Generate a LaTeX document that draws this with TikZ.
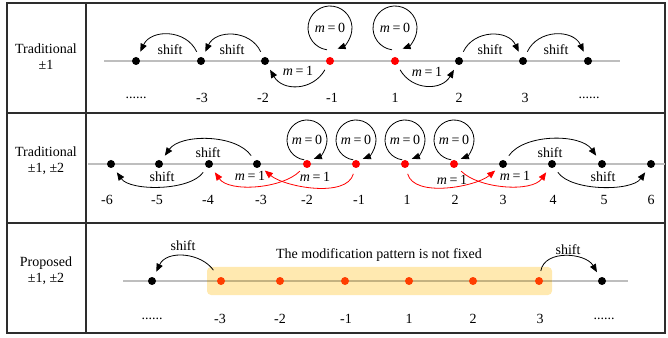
\documentclass[tikz,border=0pt]{standalone}
\usepackage{fontspec}
\setmainfont{Liberation Serif}
\usepackage{tikz}
\usetikzlibrary{arrows.meta,positioning,calc}
\definecolor{dotR}{RGB}{255,0,0}
\definecolor{dotO}{RGB}{255,62,0}
\definecolor{bandY}{RGB}{255,233,176}
\definecolor{lineG}{RGB}{190,190,190}
\definecolor{lineO}{RGB}{196,178,128}
\definecolor{frameK}{RGB}{45,45,45}
\newcommand\figfont{\fontsize{14}{16}\selectfont}
\newcommand\mval[1]{\textit{m}\hspace{0.18em}=\hspace{0.18em}#1}

\begin{document}
\begin{tikzpicture}[
  x=1pt, y=1pt,
  dot/.style={circle, fill=black, inner sep=0pt, minimum size=8pt},
  rdot/.style={dot, fill=dotR},
  odot/.style={dot, fill=dotO},
  txt/.style={font=\figfont, inner sep=1pt},
  num/.style={txt},
  rowlbl/.style={txt, align=center},
  ring/.style={txt, circle, inner sep=0pt, outer sep=0pt},
  arr/.style={-{Triangle[length=8pt,width=6.5pt]}, line width=0.8pt, shorten <=6pt, shorten >=6pt},
  rarr/.style={arr, dotR},
  selfarr/.style={-{Triangle[length=8pt,width=6.5pt]}, line width=0.8pt},
  axis/.style={lineG, line width=1.2pt},
  band/.style={fill=bandY, rounded corners=4pt, minimum width=345pt, minimum height=28pt, inner sep=0pt},
  frame/.style={frameK, line width=1.3pt}
]
\useasboundingbox (0,0) rectangle (668,337);

% table frame
\draw[frame] (7,4) rectangle (665,334);
\draw[frame] (86,4) -- (86,334);
\draw[frame] (7,224) -- (665,224);
\draw[frame] (7,114) -- (665,114);

\node[rowlbl] (h1) at (46,280) {Traditional\\±1};
\node[rowlbl] (h2) at (46,176) {Traditional\\±1, ±2};
\node[rowlbl] (h3) at (46,66) {Proposed\\±1, ±2};

% row 1: traditional +-1
\draw[axis] (104,276) -- (620,276);
\node[dot] (ta1) at (136,276) {};
\node[dot] (ta2) at (201,276) {};
\node[dot] (ta3) at (265,276) {};
\node[rdot] (ta4) at (330,276) {};
\node[rdot] (ta5) at (395,276) {};
\node[dot] (ta6) at (459,276) {};
\node[dot] (ta7) at (523,276) {};
\node[dot] (ta8) at (588,276) {};
\node[num] (na1) at (136,239) {......};
\node[num] (na2) at (202,239) {-3};
\node[num] (na3) at (263,239) {-2};
\node[num] (na4) at (332,239) {-1};
\node[num] (na5) at (395,239) {1};
\node[num] (na6) at (459,239) {2};
\node[num] (na7) at (525,239) {3};
\node[num] (na8) at (589,239) {......};
\node[ring, minimum size=44pt] (za1) at (330,309) {\mval{0}};
\node[ring, minimum size=44pt] (za2) at (395,309) {\mval{0}};
\draw[selfarr] (za1.262) arc[start angle=262, end angle=-70, radius=22pt];
\draw[selfarr] (za2.262) arc[start angle=262, end angle=-70, radius=22pt];
\node[txt] (sa1) at (170,287) {shift};
\node[txt] (sa2) at (232,287) {shift};
\node[txt] (sa3) at (490,287) {shift};
\node[txt] (sa4) at (556,287) {shift};
\node[txt] (ma1) at (298,266) {\mval{1}};
\node[txt] (ma2) at (427,265) {\mval{1}};
\draw[arr] (ta2) to[out=115,in=65,looseness=1.3] (ta1);
\draw[arr] (ta3) to[out=115,in=65,looseness=1.3] (ta2);
\draw[arr] (ta4) to[out=240,in=300,looseness=1.3] (ta3);
\draw[arr] (ta5) to[out=300,in=240,looseness=1.3] (ta6);
\draw[arr] (ta6) to[out=65,in=115,looseness=1.3] (ta7);
\draw[arr] (ta7) to[out=65,in=115,looseness=1.3] (ta8);

% row 2: traditional +-1, +-2
\draw[axis] (88,173) -- (665,173);
\node[dot] (tb1) at (111,173) {};
\node[dot] (tb2) at (159,173) {};
\node[dot] (tb3) at (209,173) {};
\node[dot] (tb4) at (257,173) {};
\node[rdot] (tb5) at (307,173) {};
\node[rdot] (tb6) at (356,173) {};
\node[rdot] (tb7) at (405,173) {};
\node[rdot] (tb8) at (454,173) {};
\node[dot] (tb9) at (503,173) {};
\node[dot] (tb10) at (552,173) {};
\node[dot] (tb11) at (602,173) {};
\node[dot] (tb12) at (651,173) {};
\node[num] (nb1) at (107,137) {-6};
\node[num] (nb2) at (157,137) {-5};
\node[num] (nb3) at (208,137) {-4};
\node[num] (nb4) at (261,137) {-3};
\node[num] (nb5) at (307,137) {-2};
\node[num] (nb6) at (359,137) {-1};
\node[num] (nb7) at (407,137) {1};
\node[num] (nb8) at (455,137) {2};
\node[num] (nb9) at (503,137) {3};
\node[num] (nb10) at (553,137) {4};
\node[num] (nb11) at (604,137) {5};
\node[num] (nb12) at (651,137) {6};
\node[ring, minimum size=40pt] (zb1) at (307,197) {\mval{0}};
\node[ring, minimum size=40pt] (zb2) at (356,197) {\mval{0}};
\node[ring, minimum size=40pt] (zb3) at (405,197) {\mval{0}};
\node[ring, minimum size=40pt] (zb4) at (454,197) {\mval{0}};
\draw[selfarr] (zb1.262) arc[start angle=262, end angle=-70, radius=20pt];
\draw[selfarr] (zb2.262) arc[start angle=262, end angle=-70, radius=20pt];
\draw[selfarr] (zb3.262) arc[start angle=262, end angle=-70, radius=20pt];
\draw[selfarr] (zb4.262) arc[start angle=262, end angle=-70, radius=20pt];
\node[txt] (sb1) at (208,184) {shift};
\node[txt] (sb2) at (162,160) {shift};
\node[txt] (sb3) at (550,184) {shift};
\node[txt] (sb4) at (603,160) {shift};
\node[txt] (mb1) at (250,161) {\mval{1}};
\node[txt] (mb2) at (315,160) {\mval{1}};
\node[txt] (mb3) at (452,157) {\mval{1}};
\node[txt] (mb4) at (515,161) {\mval{1}};
\draw[arr] (tb4) to[out=125,in=55,looseness=0.9] (tb2);
\draw[arr] (tb3) to[out=235,in=305,looseness=0.8] (tb1);
\draw[rarr] (tb5) to[out=225,in=305,looseness=0.85] (tb3);
\draw[rarr] (tb6) to[out=255,in=320,looseness=0.85] (tb4);
\draw[rarr] (tb7) to[out=285,in=220,looseness=0.85] (tb9);
\draw[rarr] (tb8) to[out=315,in=235,looseness=0.85] (tb10);
\draw[arr] (tb9) to[out=55,in=125,looseness=0.9] (tb11);
\draw[arr] (tb10) to[out=305,in=235,looseness=0.8] (tb12);

% row 3: proposed
\draw[axis] (123,56) -- (628,56);
\node[band] (band) at (379.5,56) {};
\draw[lineO, line width=1.2pt] (band.west) -- (band.east);
\node[txt] (note) at (379,82) {The modification pattern is not fixed};
\node[dot] (pr1) at (152,56) {};
\node[odot] (pr2) at (221,56) {};
\node[odot] (pr3) at (280,56) {};
\node[odot] (pr4) at (345,56) {};
\node[odot] (pr5) at (409,56) {};
\node[odot] (pr6) at (473,56) {};
\node[odot] (pr7) at (539,56) {};
\node[dot] (pr8) at (602,56) {};
\node[num] (nc1) at (152,18) {......};
\node[num] (nc2) at (220,18) {-3};
\node[num] (nc3) at (280,18) {-2};
\node[num] (nc4) at (346,18) {-1};
\node[num] (nc5) at (409,18) {1};
\node[num] (nc6) at (473,18) {2};
\node[num] (nc7) at (540,18) {3};
\node[num] (nc8) at (604,18) {......};
\node[txt] (sc1) at (183,91) {shift};
\node[txt] (sc2) at (568,87) {shift};
\draw[arr, shorten <=9pt] (pr2) to[out=125,in=65,looseness=1.2] (pr1);
\draw[arr] (pr7) to[out=80,in=120,looseness=1.2] (pr8);
\end{tikzpicture}
\end{document}
